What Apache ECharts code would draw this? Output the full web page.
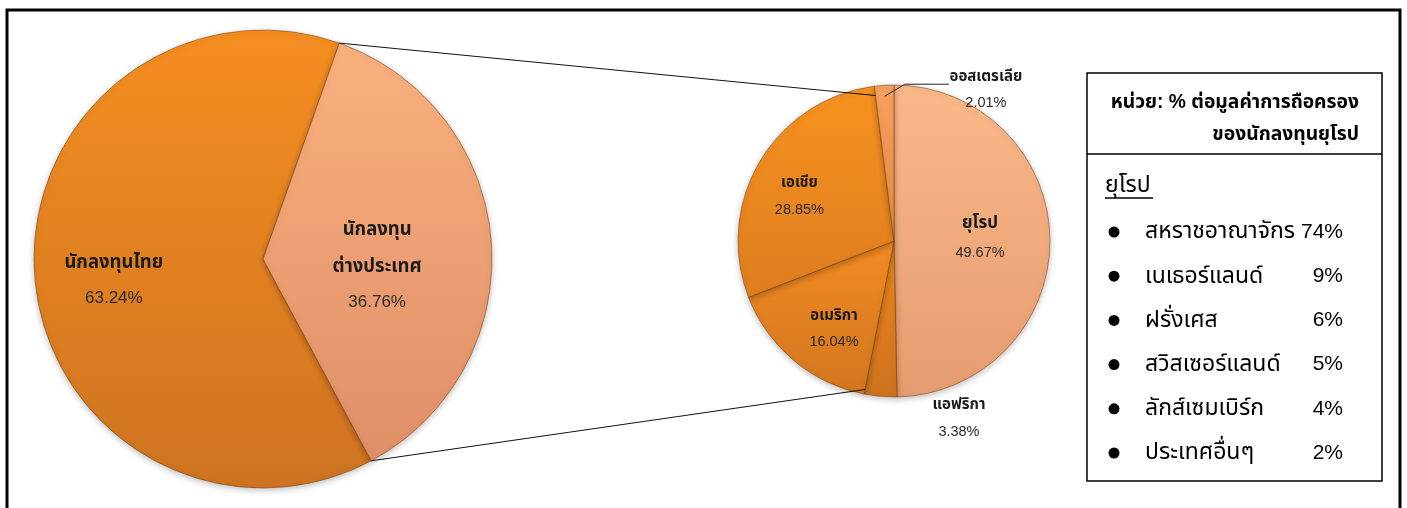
<!DOCTYPE html>
<html><head><meta charset="utf-8">
<script src="https://cdn.jsdelivr.net/npm/echarts@6/dist/echarts.min.js"></script>
<style>html,body{margin:0;padding:0;background:#fff}#c{width:1407px;height:508px}</style>
</head><body><div id="c"></div>
<script>
// ---------------- data ----------------
const mainCategories = ['นักลงทุนไทย', 'นักลงทุน\nต่างประเทศ'];
const mainValues = [63.24, 36.76];
const regionCategories = ['ยุโรป', 'แอฟริกา', 'อเมริกา', 'เอเชีย', 'ออสเตรเลีย'];
const regionValues = [49.67, 3.38, 16.04, 28.85, 2.01];
const legendTitleLines = ['หน่วย: % ต่อมูลค่าการถือครอง', 'ของนักลงทุนยุโรป'];
const legendHeading = 'ยุโรป';
const europeCountries = ['สหราชอาณาจักร', 'เนเธอร์แลนด์', 'ฝรั่งเศส', 'สวิสเซอร์แลนด์', 'ลักส์เซมเบิร์ก', 'ประเทศอื่นๆ'];
const europeShares = [74, 9, 6, 5, 4, 2];

// ---------------- layout / style ----------------
const FONT = '"Liberation Sans", "Noto Sans Thai", "Tahoma", "Noto Sans", "DejaVu Sans", sans-serif';
const L = { cx: 263, cy: 259, r: 229, startCW: 151.8 };
const R = { cx: 894, cy: 241, r: 156, startCW: 0 };
const grad = (a, b) => ({ type: 'linear', x: 0, y: 0, x2: 0, y2: 1, colorStops: [{ offset: 0, color: a }, { offset: 1, color: b }] });
const darkOrange = grad('#F58E21', '#CD7320');
const lightOrange = grad('#FAB07E', '#DF8F67');
const mainColors = [darkOrange, lightOrange];
const regionColors = [grad('#FAB888', '#E69C70'), grad('#EC871F', '#CD721E'), grad('#F28B22', '#D3761F'), grad('#F7921F', '#DD7D1F'), grad('#F6A060', '#E88E40')];
const mainLabelShift = [[-32, 12], [-3, 15]];
const regionLabelShift = [[5, -3], [72, 97], [-8, 26], [-25, -3], [97, -70]];
const baseItem = { borderColor: 'rgba(120,62,15,0.55)', borderWidth: 1, shadowBlur: 6, shadowColor: 'rgba(0,0,0,0.25)', shadowOffsetY: 2 };

function pt(P, angCW, rr) {
  const a = angCW * Math.PI / 180;
  return [P.cx + rr * Math.sin(a), P.cy - rr * Math.cos(a)];
}
function total(arr) { return arr.reduce((s, v) => s + v, 0); }

// angles derived from data
const mainTot = total(mainValues);
const foreignStart = L.startCW + mainValues[0] / mainTot * 360; // top split
const foreignEnd = L.startCW + 360;                             // bottom split
const regTot = total(regionValues);
const cum = [0];
regionValues.forEach((v, i) => cum.push(cum[i] + v / regTot * 360));
const topRight = pt(R, cum[4], R.r * 0.94);   // Asia / Australia boundary
const botRight = pt(R, cum[2], R.r * 0.97);   // Africa / America boundary
const topLeft = pt(L, foreignStart, L.r);
const botLeft = pt(L, foreignEnd, L.r);
const ausMid = (cum[4] + cum[5]) / 2;
const ausA = pt(R, ausMid, R.r * 0.93);
const ausB = [ausA[0] + 20, ausA[1] - 12];
const ausC = [ausB[0] + 44, ausB[1]];

// legend graphics
const LG = { x: 1087, y: 73, w: 295, h: 408, div: 154, rowY: 232, rowH: 44.2, bulletX: 1114, textX: 1145, pctX: 1343 };
const graphics = [
  { type: 'rect', shape: { x: 7, y: 10, width: 1393, height: 520 }, style: { fill: 'none', stroke: '#000', lineWidth: 3 }, z: 10 },
  { type: 'line', shape: { x1: topLeft[0], y1: topLeft[1], x2: topRight[0], y2: topRight[1] }, style: { stroke: '#111', lineWidth: 1 }, z: 10 },
  { type: 'line', shape: { x1: botLeft[0], y1: botLeft[1], x2: botRight[0], y2: botRight[1] }, style: { stroke: '#111', lineWidth: 1 }, z: 10 },
  { type: 'polyline', shape: { points: [ausA, ausB, ausC] }, style: { stroke: '#222', lineWidth: 1, fill: 'none' }, z: 10 },
  { type: 'rect', shape: { x: LG.x, y: LG.y, width: LG.w, height: LG.h }, style: { fill: '#fff', stroke: '#000', lineWidth: 1.5 }, z: 10 },
  { type: 'line', shape: { x1: LG.x, y1: LG.div, x2: LG.x + LG.w, y2: LG.div }, style: { stroke: '#000', lineWidth: 1.5 }, z: 11 },
];
legendTitleLines.forEach((t, i) => graphics.push({ type: 'text', x: 1359, y: 103 + i * 32, z: 12,
  style: { text: t, font: 'bold 19.3px ' + FONT, fill: '#000', textAlign: 'right', textVerticalAlign: 'middle' } }));
graphics.push({ type: 'text', x: 1105, y: 186, z: 12, style: { text: legendHeading, font: '23px ' + FONT, fill: '#000', textAlign: 'left', textVerticalAlign: 'middle' } });
graphics.push({ type: 'line', shape: { x1: 1105, y1: 198, x2: 1153, y2: 198 }, style: { stroke: '#000', lineWidth: 1.5 }, z: 12 });
europeCountries.forEach((c, i) => {
  const y = LG.rowY + i * LG.rowH;
  graphics.push({ type: 'circle', shape: { cx: LG.bulletX, cy: y, r: 5.5 }, style: { fill: '#000' }, z: 12 });
  graphics.push({ type: 'text', x: LG.textX, y: y, z: 12, style: { text: c, font: '23px ' + FONT, fill: '#000', textAlign: 'left', textVerticalAlign: 'middle' } });
  graphics.push({ type: 'text', x: LG.pctX, y: y, z: 12, style: { text: europeShares[i] + '%', font: '21px ' + FONT, fill: '#000', textAlign: 'right', textVerticalAlign: 'middle' } });
});

const chart = echarts.init(document.getElementById('c'), null, { renderer: 'canvas' });
chart.setOption({
  backgroundColor: '#fff',
  animation: false,
  graphic: { elements: graphics },
  series: [
    {
      type: 'pie', center: [L.cx, L.cy], radius: [0, L.r], startAngle: 90 - L.startCW, clockwise: true,
      silent: true,
      data: mainCategories.map((n, i) => ({ name: n, value: mainValues[i], itemStyle: Object.assign({ color: mainColors[i] }, baseItem) })),
      label: {
        position: 'inside', fontFamily: FONT,
        formatter: p => '{n|' + p.name + '}\n{p|' + p.value.toFixed(2) + '%}',
        rich: {
          n: { fontFamily: FONT, fontSize: 18.5, fontWeight: 'bold', color: '#1a1a1a', lineHeight: 37 },
          p: { fontFamily: FONT, fontSize: 17, color: '#2a2a2a', lineHeight: 34 }
        }
      },
      labelLine: { show: false },
      labelLayout: p => ({ dx: mainLabelShift[p.dataIndex][0], dy: mainLabelShift[p.dataIndex][1] })
    },
    {
      type: 'pie', center: [R.cx, R.cy], radius: [0, R.r], startAngle: 90 - R.startCW, clockwise: true,
      silent: true,
      data: regionCategories.map((n, i) => ({ name: n, value: regionValues[i], itemStyle: Object.assign({ color: regionColors[i] }, baseItem),
        label: i === 0 ? { rich: { n: { fontSize: 17, lineHeight: 32 }, p: { lineHeight: 28 } } } : undefined })),
      label: {
        position: 'inside', fontFamily: FONT,
        formatter: p => '{n|' + p.name + '}\n{p|' + p.value.toFixed(2) + '%}',
        rich: {
          n: { fontFamily: FONT, fontSize: 15, fontWeight: 'bold', color: '#1a1a1a', lineHeight: 26 },
          p: { fontFamily: FONT, fontSize: 14.5, color: '#2a2a2a', lineHeight: 27 }
        }
      },
      labelLine: { show: false },
      labelLayout: p => ({ dx: regionLabelShift[p.dataIndex][0], dy: regionLabelShift[p.dataIndex][1] })
    }
  ]
});
</script>
</body></html>
